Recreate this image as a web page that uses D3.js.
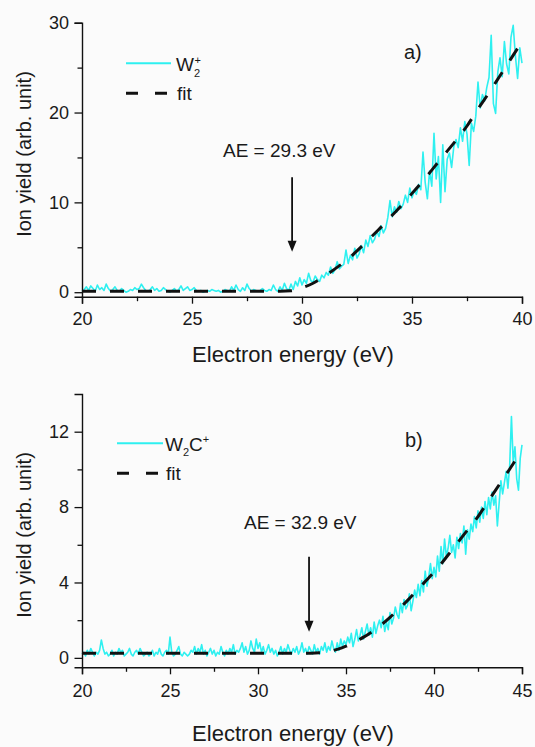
<!DOCTYPE html>
<html><head><meta charset="utf-8">
<script src="https://cdn.jsdelivr.net/npm/d3@7"></script>
<style>
html,body{margin:0;padding:0;background:#fbfbfb;}
svg{display:block;font-family:Arial,"Liberation Sans",sans-serif;}
</style>
</head><body>
<svg id="chart" width="535" height="747"></svg>
<script>
// ---------- data ----------
// panel a) W2+ : energy 20.0 .. 40.0 eV, step 0.1 eV
const topStart = 20, topStep = 0.1;
const topYield = [
0.1,0.3,0.6,0.2,0.7,0.4,0.1,0.8,0.3,0.5,
0.2,0.9,0.4,0.1,0.3,0.6,0.2,0.1,0.4,0.2,
0.0,0.1,0.3,0.2,0.5,0.3,0.4,0.9,0.5,0.2,
0.1,0.3,0.6,0.2,0.4,0.1,0.2,0.5,0.3,0.1,
0.0,0.2,0.4,0.1,0.3,0.7,0.2,0.4,0.6,0.2,
0.3,0.5,0.2,0.1,0.2,0.0,0.1,0.2,0.1,0.3,
0.2,0.1,0.2,0.0,0.1,0.3,0.2,0.1,0.6,0.2,
0.8,0.3,0.1,0.5,0.2,0.9,0.4,0.1,0.3,0.2,
0.1,0.2,0.4,0.2,0.1,0.3,0.2,0.8,0.3,0.1,
0.6,0.2,1.0,0.4,0.2,0.9,0.3,1.2,0.7,1.6,
0.8,1.4,1.0,2.1,1.3,1.1,1.8,1.4,1.2,1.9,
1.6,2.2,1.9,2.8,2.1,2.5,3.4,2.6,2.9,3.1,
4.7,3.2,4.1,3.6,4.9,3.8,4.3,5.2,4.4,5.8,
5.1,6.3,5.5,5.9,6.8,6.2,7.4,6.6,7.1,8.3,
10.2,8.4,9.5,8.9,10.1,9.3,9.8,10.8,10.0,11.6,
10.5,11.3,10.9,12.0,11.4,15.6,12.2,10.4,13.5,11.8,
17.7,12.6,15.1,10.0,16.4,11.2,14.8,15.5,13.9,16.2,
17.0,16.1,18.3,16.8,19.0,17.6,14.1,18.8,17.9,19.6,
23.4,20.5,22.0,21.3,22.8,23.9,28.6,21.0,19.9,24.5,
26.1,24.0,27.9,25.4,24.3,28.4,29.7,26.3,23.8,27.2,
25.5];
// fit a): energy 20.0 .. 40.0 eV, step 0.5 eV
const topFitStep = 0.5;
const topFit = [
0.1,0.1,0.1,0.1,0.1,0.1,0.1,0.1,0.1,0.1,
0.1,0.1,0.1,0.1,0.1,0.1,0.1,0.1,0.1,
0.15,0.5,1.0,1.75,2.6,3.5,4.6,5.8,7.0,8.3,9.6,
11.0,12.4,13.9,15.4,16.9,18.5,20.4,22.2,24.1,26.0,27.9];

// panel b) W2C+ : energy 20.0 .. 45.0 eV, step 0.1 eV
const botStart = 20, botStep = 0.1;
const botYield = [
0.2,0.3,0.1,0.4,0.2,0.5,0.3,0.1,0.3,0.2,
0.4,0.95,0.5,0.2,0.3,0.1,0.2,0.4,0.1,0.3,
0.2,0.5,0.3,0.4,0.1,0.2,0.3,0.5,0.2,0.1,
0.3,0.4,0.2,0.5,0.3,0.1,0.2,0.3,0.1,0.2,
0.4,0.1,0.3,0.2,0.5,0.2,0.1,0.3,0.4,0.2,
1.1,0.3,0.1,0.2,0.4,0.6,0.2,0.1,0.3,0.2,
0.1,0.2,0.4,0.3,0.6,0.2,0.5,0.3,0.7,0.2,
0.4,0.1,0.3,0.5,0.2,0.4,0.1,0.3,0.2,0.6,
0.3,0.1,0.4,0.2,0.5,0.3,0.7,0.2,0.4,0.3,
0.5,0.8,0.3,0.6,0.2,0.4,0.9,0.5,0.3,1.0,
0.5,0.8,0.3,0.6,0.2,0.4,0.7,0.3,0.5,0.2,
0.4,0.1,0.3,0.6,0.2,0.5,0.3,0.7,0.4,0.2,
0.5,0.3,0.6,0.2,0.4,0.8,0.3,0.5,0.2,0.6,
0.4,0.2,0.7,0.3,0.5,0.2,0.6,0.4,0.8,0.3,
0.6,0.4,0.9,0.5,0.3,0.8,0.4,1.0,0.6,0.9,
0.7,1.1,0.8,1.3,0.6,1.0,1.5,0.9,1.2,1.6,
1.0,1.4,1.8,1.2,1.6,1.1,1.9,1.3,1.7,2.0,
1.6,2.2,1.4,1.9,1.5,2.4,1.8,2.1,2.7,2.3,
2.1,2.9,2.4,3.1,2.6,2.8,3.4,2.5,3.0,3.6,
3.2,3.9,3.3,4.1,3.5,4.6,3.8,4.3,5.0,4.2,
4.8,4.3,5.4,4.6,5.9,5.0,6.3,5.4,5.8,6.5,
5.6,6.0,5.3,6.4,5.8,6.6,6.1,7.0,5.5,6.8,
6.3,7.1,6.7,7.5,6.9,7.8,7.2,8.0,7.4,8.3,
7.6,8.5,7.9,8.8,8.1,8.6,7.0,8.2,9.4,8.7,
9.3,9.9,9.0,10.2,12.8,10.4,11.2,9.5,8.9,10.6,
11.3];
// fit b): energy 20.0 .. 45.0 eV, step 0.5 eV
const botFitStep = 0.5;
const botFit = [
0.25,0.25,0.25,0.25,0.25,0.25,0.25,0.25,0.25,0.25,
0.25,0.25,0.25,0.25,0.25,0.25,0.25,0.25,0.25,0.25,
0.25,0.25,0.25,0.25,0.25,0.25,0.25,
0.27,0.33,0.45,0.62,0.85,1.1,1.4,1.75,2.15,2.6,3.05,3.55,4.05,
4.55,5.1,5.7,6.3,6.9,7.5,8.2,8.9,9.6,10.3,11.05];

// ticks
const topXTicks = [20,25,30,35,40];
const topXMinor = [22.5,27.5,32.5,37.5];
const topYTicks = [0,10,20,30];
const topYMinor = [5,15,25];
const botXTicks = [20,25,30,35,40,45];
const botXMinor = [22.5,27.5,32.5,37.5,42.5];
const botYTicks = [0,4,8,12];
const botYMinor = [2,6,10];

// annotations
const topAE = "AE = 29.3 eV", botAE = "AE = 32.9 eV";
const topArrowE = 29.55, botArrowE = 32.9;

// ---------- drawing ----------
const svg = d3.select("#chart");
const CYAN = "#2ef0f0", INK = "#111", TXT = "#1a1a1a";

const panels = [
  { yv: topYield, start: topStart, step: topStep, fit: topFit, fitStep: topFitStep,
    xDom: [20,40], yDom: [-0.5,30], xR: [82,522], yR: [296.7,22.7],
    xT: topXTicks, xM: topXMinor, yT: topYTicks, yM: topYMinor,
    tickBase: 325, xTitleBase: 362, yTitleC: 154,
    leg: {x1:126, x2:171, y1:63.3, y2:93.3, tx:176},
    species: "a", label: "a)", labelPos: [404, 59],
    ae: topAE, aePos: [223, 157], arrowE: topArrowE, arrowY: [12.8, 4.5] },
  { yv: botYield, start: botStart, step: botStep, fit: botFit, fitStep: botFitStep,
    xDom: [20,45], yDom: [-0.5,14], xR: [82,522], yR: [667.3,394],
    xT: botXTicks, xM: botXMinor, yT: botYTicks, yM: botYMinor,
    tickBase: 697, xTitleBase: 741, yTitleC: 535,
    leg: {x1:117, x2:163, y1:443.3, y2:473.3, tx:165},
    species: "b", label: "b)", labelPos: [405, 447],
    ae: botAE, aePos: [244, 529], arrowE: botArrowE, arrowY: [5.37, 1.39] }
];

panels.forEach(p => {
  const x = d3.scaleLinear().domain(p.xDom).range(p.xR);
  const y = d3.scaleLinear().domain(p.yDom).range(p.yR);
  const g = svg.append("g");

  // data line
  const pts = p.yv.map((v,i) => [p.start + i*p.step, v]);
  g.append("path").datum(pts)
    .attr("fill","none").attr("stroke",CYAN).attr("stroke-width",1.6)
    .attr("stroke-linejoin","round")
    .attr("d", d3.line().x(d=>x(d[0])).y(d=>y(d[1])));

  // fit line
  const fpts = p.fit.map((v,i) => [p.start + i*p.fitStep, v]);
  g.append("path").datum(fpts)
    .attr("fill","none").attr("stroke",INK).attr("stroke-width",3)
    .attr("stroke-dasharray","14,14")
    .attr("d", d3.line().curve(d3.curveMonotoneX).x(d=>x(d[0])).y(d=>y(d[1])));

  // axes
  const xAxis = d3.axisBottom(x).tickValues(p.xT).tickSize(7).tickPadding(4)
    .tickFormat(d3.format("d"));
  const gx = g.append("g").attr("transform",`translate(0,${p.yR[0]})`).call(xAxis);
  const xMin = d3.axisBottom(x).tickValues(p.xM).tickSize(4.5).tickFormat("");
  g.append("g").attr("transform",`translate(0,${p.yR[0]})`).call(xMin)
    .select(".domain").remove();
  const yAxis = d3.axisLeft(y).tickValues(p.yT).tickSize(7.5).tickPadding(6)
    .tickFormat(d3.format("d"));
  const gy = g.append("g").attr("transform",`translate(${p.xR[0]},0)`).call(yAxis);
  const yMin = d3.axisLeft(y).tickValues(p.yM).tickSize(4.5).tickFormat("");
  g.append("g").attr("transform",`translate(${p.xR[0]},0)`).call(yMin)
    .select(".domain").remove();

  [gx, gy].forEach(a => {
    a.select(".domain").attr("stroke",INK).attr("stroke-width",1.4);
    a.selectAll("text").attr("font-family","Arial, 'Liberation Sans', sans-serif")
      .attr("font-size",18).attr("fill",TXT);
  });
  g.selectAll(".tick line").attr("stroke",INK).attr("stroke-width",1.3);
  gx.selectAll("text").attr("dy",null).attr("y", p.tickBase - p.yR[0]);
  gy.selectAll("text").attr("x",-13);

  // axis titles
  g.append("text").attr("x", 293).attr("y", p.xTitleBase)
    .attr("text-anchor","middle").attr("font-size",22).attr("fill",TXT)
    .text("Electron energy (eV)");
  g.append("text").attr("transform",`translate(31,${p.yTitleC}) rotate(-90)`)
    .attr("text-anchor","middle").attr("font-size",20).attr("fill",TXT)
    .text("Ion yield (arb. unit)");

  // legend
  const L = p.leg;
  g.append("line").attr("x1",L.x1).attr("x2",L.x2).attr("y1",L.y1).attr("y2",L.y1)
    .attr("stroke",CYAN).attr("stroke-width",2);
  g.append("line").attr("x1",L.x1).attr("x2",L.x2 - 3).attr("y1",L.y2).attr("y2",L.y2)
    .attr("stroke",INK).attr("stroke-width",3).attr("stroke-dasharray","12,17");
  if (p.species === "a") {
    g.append("text").attr("x",L.tx).attr("y",L.y1+8).attr("font-size",19).attr("fill",TXT).text("W");
    g.append("text").attr("x",L.tx+18.5).attr("y",L.y1+1).attr("font-size",11).attr("fill",TXT).text("+");
    g.append("text").attr("x",L.tx+18).attr("y",L.y1+14).attr("font-size",11).attr("fill",TXT).text("2");
  } else {
    const t = g.append("text").attr("x",L.tx).attr("y",L.y1+8).attr("font-size",19).attr("fill",TXT);
    t.append("tspan").text("W");
    t.append("tspan").attr("font-size",11).attr("dy",5).text("2");
    t.append("tspan").attr("dy",-5).text("C");
    t.append("tspan").attr("font-size",11).attr("dy",-8).text("+");
  }
  g.append("text").attr("x",L.tx+1).attr("y",L.y2+7).attr("font-size",19).attr("fill",TXT).text("fit");

  // panel label
  g.append("text").attr("x",p.labelPos[0]).attr("y",p.labelPos[1])
    .attr("font-size",20).attr("fill",TXT).text(p.label);

  // AE annotation and arrow
  g.append("text").attr("x",p.aePos[0]).attr("y",p.aePos[1])
    .attr("font-size",19).attr("fill",TXT).text(p.ae);
  const ax = x(p.arrowE), ay1 = y(p.arrowY[0]), ay2 = y(p.arrowY[1]);
  g.append("line").attr("x1",ax).attr("x2",ax).attr("y1",ay1).attr("y2",ay2-8)
    .attr("stroke",INK).attr("stroke-width",1.8);
  g.append("path").attr("d",`M${ax-4.5},${ay2-11}L${ax+4.5},${ay2-11}L${ax},${ay2}Z`)
    .attr("fill",INK);
});
</script>
</body></html>
